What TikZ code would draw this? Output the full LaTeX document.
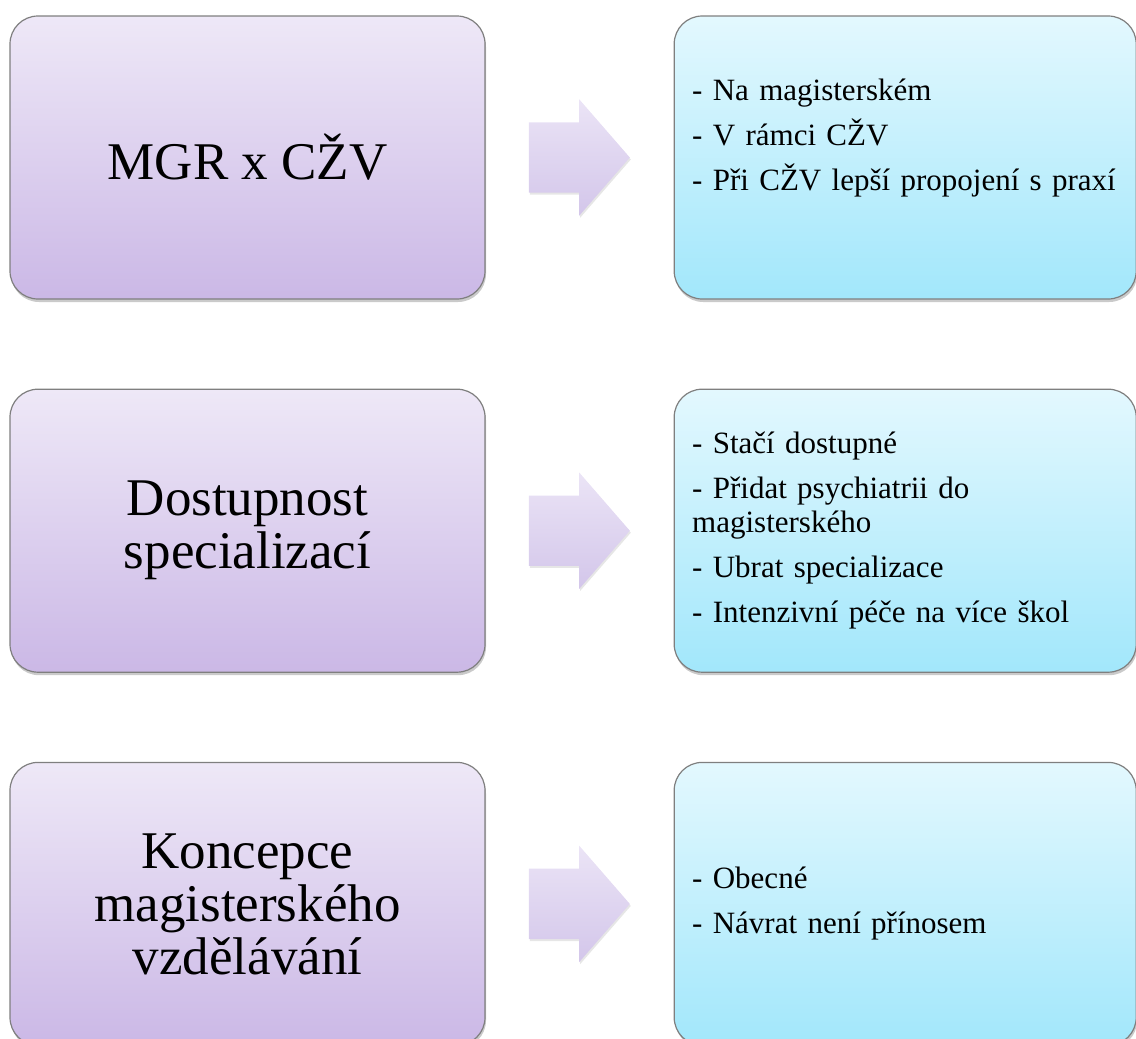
\documentclass[tikz,border=0pt]{standalone}
\usepackage{fontspec}
\setmainfont{Liberation Serif}
\usepackage{tikz}
\usetikzlibrary{positioning}
\usetikzlibrary{calc}
\usetikzlibrary{shapes.arrows}
\usetikzlibrary{shadows}

\definecolor{lavtop}{HTML}{EEE8F7}
\definecolor{lavbot}{HTML}{CBB8E6}
\definecolor{skytop}{HTML}{E3F8FE}
\definecolor{skybot}{HTML}{A2E7FB}
\definecolor{arrtop}{HTML}{EBE4F6}
\definecolor{arrbot}{HTML}{D3C6EA}
\definecolor{edgegray}{HTML}{7F7F7F}

\tikzset{
    cardshadow/.style={drop shadow={shadow xshift=1pt, shadow yshift=-3pt, opacity=0.35, fill=black!60}},
    topicbox/.style={rectangle, rounded corners=28pt, draw=edgegray, line width=1.2pt,
        top color=lavtop, bottom color=lavbot, minimum width=475pt, minimum height=283pt,
        align=center, font=\fontsize{53}{53}\selectfont, cardshadow},
    notebox/.style={rectangle, rounded corners=28pt, draw=edgegray, line width=1.2pt,
        top color=skytop, bottom color=skybot, minimum width=462pt, minimum height=283pt,
        text width=426pt, align=left, font=\fontsize{31}{34}\selectfont, cardshadow},
    blockarrow/.style={single arrow, draw=none, top color=arrtop, bottom color=arrbot,
        minimum height=101pt, inner xsep=0pt, inner ysep=35pt,
        single arrow head extend=23pt, single arrow tip angle=98,
        drop shadow={shadow xshift=1pt, shadow yshift=-2pt, opacity=0.2, fill=black!50}}
}

\begin{document}
\begin{tikzpicture}[x=1pt,y=1pt]
    \useasboundingbox (0,0) rectangle (1136,-1039);
    % left column
    \node[topicbox] (topic1) at (247.5,-157.5) {MGR x CŽV};
    \node[topicbox, below=89pt of topic1] (topic2) {Dostupnost\\specializací};
    \node[topicbox, below=89pt of topic2] (topic3) {Koncepce\\magisterského\\vzdělávání};
    % right column
    \node[notebox, right=188pt of topic1] (note1) {- Na magisterském\\[11pt]
        - V rámci CŽV\\[11pt]
        - Při CŽV lepší propojení s praxí\\[11pt]
        \mbox{}};
    \node[notebox, right=188pt of topic2] (note2) {- Stačí dostupné\\[11pt]
        - Přidat psychiatrii do\\magisterského\\[11pt]
        - Ubrat specializace\\[11pt]
        - Intenzivní péče na více škol};
    \node[notebox, right=188pt of topic3] (note3) {- Obecné\\[11pt]
        - Návrat není přínosem};
    % arrows
    \foreach \i in {1,2,3}
        \node[blockarrow, anchor=tail, xshift=-51pt] (arrow\i) at ($(topic\i.east)!0.5!(note\i.west)$) {};
\end{tikzpicture}
\end{document}
